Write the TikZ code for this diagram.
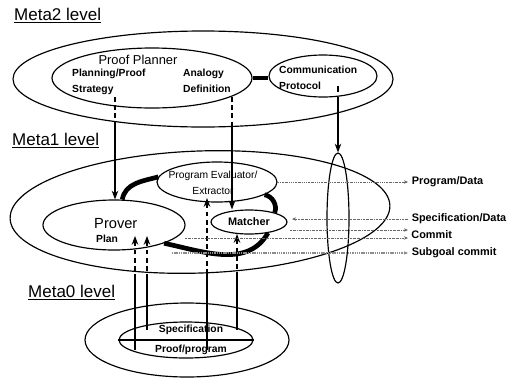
\documentclass[tikz,border=0pt]{standalone}
\usepackage{fontspec}
\setmainfont{Liberation Sans}
\usetikzlibrary{positioning,arrows.meta,shapes.geometric}

\begin{document}
\begin{tikzpicture}[
    x=0.3mm, y=-0.3mm,
    >=Stealth,
    level/.style={ellipse, draw, line width=1pt, inner sep=0pt},
    levelname/.style={anchor=west, inner sep=0pt, font=\fontsize{14.5}{16}\selectfont},
    title/.style={inner sep=0pt, font=\fontsize{11}{12}\selectfont},
    tag/.style={inner sep=0pt, align=left, font=\bfseries\fontsize{8.8}{13.6}\selectfont},
    outlabel/.style={anchor=west, inner sep=1pt, font=\bfseries\fontsize{9.3}{10}\selectfont},
    band/.style={line width=4pt},
    link/.style={->, line width=1pt, dash pattern=on 4pt off 3pt on 4pt off 3pt on 4pt off 3pt on 300pt},
    uplink/.style={<-, line width=1pt, dash pattern=on 4pt off 3pt on 4pt off 3pt on 4pt off 3pt on 4pt off 3pt on 300pt},
    longuplink/.style={<-, line width=1pt, dash pattern=on 4pt off 3pt on 4pt off 3pt on 4pt off 3pt on 4pt off 3pt on 4pt off 3pt on 4pt off 3pt on 4pt off 3pt on 4pt off 3pt on 300pt},
    flow/.style={line width=0.7pt, black!60, dash pattern=on 1.6pt off 0.8pt on 0.5pt off 0.8pt},
    subgoal/.style={line width=2.2pt, black!45, dash pattern=on 1.2pt off 0.7pt},
    tip/.style={-{Stealth[length=3.5pt,width=3pt]}},
]
\useasboundingbox (0,0) rectangle (520,380);

% === Meta2 level ===
\node[levelname] (m2name) at (14,16) {\underline{Meta2 level}};
\node[level, minimum width=114mm, minimum height=28.8mm] (meta2) at (203,79) {};
\node[level, minimum width=60mm, minimum height=18mm] (planner) at (152,78) {};
\node[level, minimum width=32.4mm, minimum height=12.6mm] (comm) at (323,76) {};

\node[title] (plannername) at (138,60) {Proof Planner};
\node[tag, anchor=north west] (strategy) at (72,69) {Planning/Proof\\Strategy};
\node[tag, anchor=north west] (analogy) at (183,69) {Analogy\\Definition};
\node[tag, anchor=north west] (protocol) at (279,66) {Communication\\Protocol};

\draw[band] (planner.east) -- (planner.east -| comm.west);

% === Meta1 level ===
\node[levelname] (m1name) at (12,141) {\underline{Meta1 level}};
\node[level, minimum width=114mm, minimum height=36.6mm, rotate=2] (meta1) at (200,212) {};
\node[level, minimum width=36mm, minimum height=12mm] (evaluator) at (217,182) {};
\node[level, minimum width=42.6mm, minimum height=15mm] (prover) at (114,225) {};
\node[level, minimum width=22.8mm, minimum height=7.2mm,
    font=\bfseries\fontsize{9.3}{10}\selectfont] (matcher) at (249,222) {Matcher};
\node[level, minimum width=6.6mm, minimum height=39mm] (channel) at (338,218) {};

\node[inner sep=0pt, align=center, font=\fontsize{8.8}{14}\selectfont] (evaltext) at (213,183) {Program Evaluator/\\Extractor};
\node[anchor=west, inner sep=0pt, font=\fontsize{12.5}{14}\selectfont] (provertext) at (94,224) {Prover};
\node[tag, anchor=west] (plantext) at (96,239) {Plan};

% thick links between the Meta1 parts
\draw[band] (evaluator.175) to[out=195, in=80] (prover.72);
\draw[band] (evaluator.-15) to[out=-10, in=70] (matcher.20);
\draw[band] (prover.-20) to[out=-12, in=-120] (matcher.-30);

% === Meta0 level ===
\node[levelname] (m0name) at (28,293) {\underline{Meta0 level}};
\node[level, minimum width=61.2mm, minimum height=22.2mm] (meta0) at (187,340) {};
\node[level, minimum width=40.2mm, minimum height=10.8mm] (theory) at (186,340) {};
\draw[line width=1pt] (theory.west) -- (theory.east);
\node[tag] (spec) at (191,330) {Specification};
\node[tag] (proofprog) at (191,350) {Proof/program};

% === Links down from Meta2 ===
\coordinate (stratfoot) at (115,97);
\coordinate (deffoot) at (232,97);
\coordinate (protfoot) at (338,86);
\draw[link] (stratfoot) -- (stratfoot |- prover.north);
\draw[link] (deffoot) -- (deffoot |- matcher.north);
\draw[->, line width=1pt, dash pattern=on 5pt off 4pt on 300pt] (protfoot) -- (channel.north);

% === Links up from Meta0 ===
\coordinate (tipA) at (135,236);
\coordinate (tipB) at (147,236);
\coordinate (tipC) at (207,198);
\coordinate (tipD) at (237,234);
\draw[uplink] (tipA) -- (tipA |- proofprog.center);
\draw[uplink] (tipB) -- (tipB |- spec.center);
\draw[longuplink] (tipC) -- (tipC |- proofprog.center);
\draw[uplink] (tipD) -- (tipD |- spec.center);

% === Data and commit flows ===
\coordinate (pdend) at (408,182);
\coordinate (sdtip) at (292,219);
\coordinate (sdend) at (408,219);
\coordinate (cmstart) at (290,230);
\coordinate (cmtop) at (408,230);
\coordinate (cmlow) at (185,238);
\coordinate (cmbot) at (408,238);
\coordinate (sgstart) at (172,253);
\coordinate (sgend) at (408,253);

\draw[flow, tip] (evaluator.east) -- (pdend);
\draw[flow, tip] (sdend) -- (sdtip);
\draw[flow, tip] (cmstart) -- (cmtop);
\draw[flow, tip] (cmlow) -- (cmbot);
\draw[subgoal, tip] (sgstart) -- (sgend);

\node[outlabel, right=2pt of pdend] (pdlabel) {Program/Data};
\node[outlabel, right=2pt of sdend] (sdlabel) {Specification/Data};
\node[outlabel] (cmlabel) at (410,235) {Commit};
\node[outlabel, right=2pt of sgend] (sglabel) {Subgoal commit};

\end{tikzpicture}
\end{document}
